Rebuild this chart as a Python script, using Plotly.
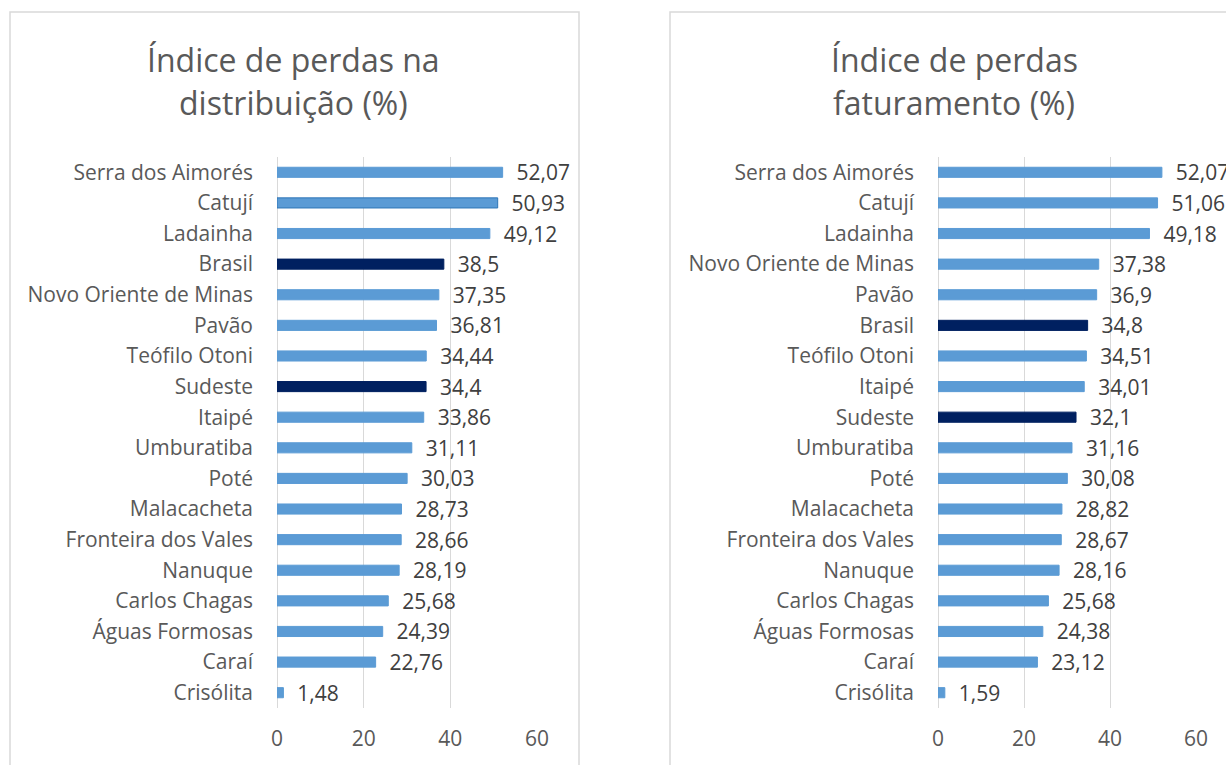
import plotly.graph_objects as go

# left chart: distribution losses
dist_names = ["Serra dos Aimorés", "Catují", "Ladainha", "Brasil", "Novo Oriente de Minas", "Pavão",
              "Teófilo Otoni", "Sudeste", "Itaipé", "Umburatiba", "Poté", "Malacacheta",
              "Fronteira dos Vales", "Nanuque", "Carlos Chagas", "Águas Formosas", "Caraí", "Crisólita"]
dist_vals = [52.07, 50.93, 49.12, 38.5, 37.35, 36.81, 34.44, 34.4, 33.86, 31.11, 30.03, 28.73,
             28.66, 28.19, 25.68, 24.39, 22.76, 1.48]

# right chart: billing losses
fat_names = ["Serra dos Aimorés", "Catují", "Ladainha", "Novo Oriente de Minas", "Pavão", "Brasil",
             "Teófilo Otoni", "Itaipé", "Sudeste", "Umburatiba", "Poté", "Malacacheta",
             "Fronteira dos Vales", "Nanuque", "Carlos Chagas", "Águas Formosas", "Caraí", "Crisólita"]
fat_vals = [52.07, 51.06, 49.18, 37.38, 36.9, 34.8, 34.51, 34.01, 32.1, 31.16, 30.08, 28.82,
            28.67, 28.16, 25.68, 24.38, 23.12, 1.59]

x_ticks = [0, 20, 40, 60]
highlight = ["Brasil", "Sudeste"]

FONT = "Open Sans"
LIGHT = "#5B9BD5"
DARK = "#002060"
GRID = "#D9D9D9"
TXT = "#595959"

# body margin is removed in the page, so the figure fills the window
W, H = 1226, 765


def px(x):
    return x / W


def py(y):
    return 1 - y / H


def fmt(v):
    return "\u00a0\u00a0" + str(v).replace(".", ",")


def bar(names, vals, xa, ya):
    colors = [DARK if n in highlight else LIGHT for n in names]
    lines = ["#2E75B6" if n == "Catují" and xa == "x" else c for n, c in zip(names, colors)]
    return go.Bar(
        x=vals, y=names, orientation="h", xaxis=xa, yaxis=ya,
        marker=dict(color=colors, line=dict(color=lines, width=1)),
        width=0.33,
        text=[fmt(v) for v in vals], textposition="outside", constraintext="none",
        textfont=dict(family=FONT, size=21, color="#404040"),
        cliponaxis=False, showlegend=False, hoverinfo="skip",
    )


fig = go.Figure()
fig.add_trace(bar(dist_names, dist_vals, "x", "y"))
fig.add_trace(bar(fat_names, fat_vals, "x2", "y2"))

xaxis_common = dict(range=[0, 60], tickvals=x_ticks, showgrid=True, gridcolor=GRID, gridwidth=1,
                    zeroline=True, zerolinecolor=GRID, zerolinewidth=1, showline=False,
                    tickfont=dict(family=FONT, size=21, color=TXT), ticklabelstandoff=16,
                    automargin=False, fixedrange=True)
yaxis_common = dict(type="category", autorange="reversed", showgrid=False, zeroline=False, showline=False,
                    tickfont=dict(family=FONT, size=21, color=TXT), ticklabelstandoff=23,
                    automargin=False, domain=[py(708), py(157)], fixedrange=True)

fig.update_layout(
    width=W, height=H,
    margin=dict(l=0, r=0, t=0, b=0, autoexpand=False),
    paper_bgcolor="white", plot_bgcolor="white",
    xaxis=dict(domain=[px(277), px(537)], anchor="y", **xaxis_common),
    yaxis=dict(anchor="x", **yaxis_common),
    xaxis2=dict(domain=[px(938), px(1196)], anchor="y2", **xaxis_common),
    yaxis2=dict(anchor="x2", **yaxis_common),
)

# chart frames
for x0, x1 in [(10, 579), (670, 1250)]:
    fig.add_shape(type="rect", xref="paper", yref="paper", x0=px(x0), x1=px(x1), y0=-0.1, y1=py(12),
                  line=dict(color=GRID, width=1.5), fillcolor="rgba(0,0,0,0)", layer="below")

# titles
titles = [("Índice de perdas na", "distribuição (%)", 293), ("Índice de perdas", "faturamento (%)", 954)]
for l1, l2, cx in titles:
    for txt, cy in [(l1, 60), (l2, 103)]:
        fig.add_annotation(text=txt, xref="paper", yref="paper", x=px(cx), y=py(cy),
                           xanchor="center", yanchor="middle", showarrow=False,
                           font=dict(family=FONT, size=32, color=TXT))

fig.write_html("out.html", config={"displayModeBar": False},
               post_script="document.body.style.margin='0';document.body.style.overflow='hidden';")
